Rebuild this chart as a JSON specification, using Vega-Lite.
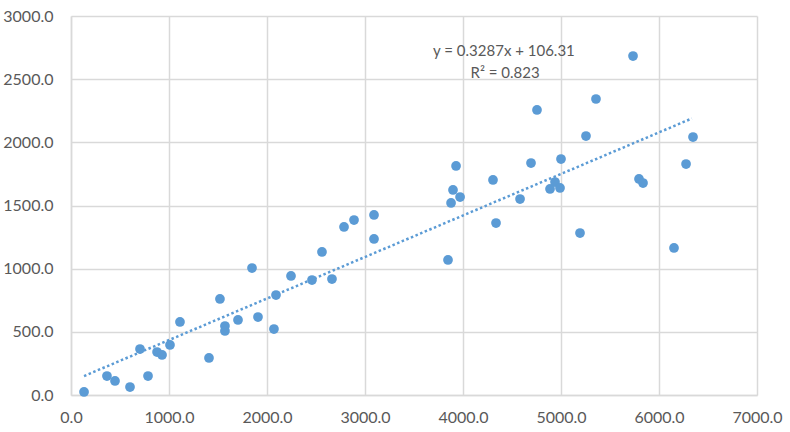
{
  "$schema": "https://vega.github.io/schema/vega-lite/v6.json",
  "width": 686,
  "height": 379,
  "autosize": {"type": "none"},
  "padding": {"left": 71, "top": 16, "right": 33, "bottom": 37},
  "background": "white",
  "config": {
    "view": {"stroke": null},
    "font": "Lato",
    "axis": {
      "grid": true,
      "gridColor": "#D9D9D9",
      "gridWidth": 1.5,
      "domainColor": "#D9D9D9",
      "domainWidth": 1.5,
      "ticks": false,
      "labelFlush": false,
      "labelColor": "#595959",
      "labelFont": "Lato",
      "labelFontSize": 16,
      "title": null
    }
  },
  "datasets": {
    "points": [
      {"x": 133, "y": 24}, {"x": 367, "y": 150}, {"x": 449, "y": 111}, {"x": 602, "y": 63},
      {"x": 786, "y": 150}, {"x": 704, "y": 364}, {"x": 878, "y": 340}, {"x": 929, "y": 317},
      {"x": 1010, "y": 396}, {"x": 1112, "y": 578}, {"x": 1408, "y": 293}, {"x": 1520, "y": 760},
      {"x": 1571, "y": 546}, {"x": 1571, "y": 507}, {"x": 1704, "y": 594}, {"x": 1847, "y": 1005},
      {"x": 1908, "y": 617}, {"x": 2071, "y": 522}, {"x": 2092, "y": 791}, {"x": 2245, "y": 942},
      {"x": 2459, "y": 910}, {"x": 2561, "y": 1132}, {"x": 2663, "y": 918}, {"x": 2786, "y": 1330},
      {"x": 2888, "y": 1385}, {"x": 3092, "y": 1425}, {"x": 3092, "y": 1235}, {"x": 3847, "y": 1069},
      {"x": 4337, "y": 1361}, {"x": 5194, "y": 1282}, {"x": 6153, "y": 1164}, {"x": 5735, "y": 2683},
      {"x": 4755, "y": 2256}, {"x": 5357, "y": 2343}, {"x": 5255, "y": 2050}, {"x": 6347, "y": 2042},
      {"x": 3929, "y": 1813}, {"x": 4694, "y": 1836}, {"x": 5000, "y": 1868}, {"x": 6276, "y": 1828},
      {"x": 3898, "y": 1623}, {"x": 3970, "y": 1567}, {"x": 3878, "y": 1520}, {"x": 4306, "y": 1702},
      {"x": 4582, "y": 1551}, {"x": 4939, "y": 1686}, {"x": 4888, "y": 1631}, {"x": 4990, "y": 1639},
      {"x": 5796, "y": 1710}, {"x": 5837, "y": 1678}
    ],
    "trend": [
      {"x": 133, "y": 150.0},
      {"x": 6335, "y": 2188.7}
    ],
    "labels": [
      {"x": 4418, "y": 2723, "text": "y = 0.3287x + 106.31"},
      {"x": 4430, "y": 2549, "text": "R² = 0.823"}
    ]
  },
  "layer": [
    {
      "data": {"name": "trend"},
      "mark": {"type": "line", "color": "#5B9BD5", "strokeWidth": 2.5, "strokeDash": [2.5, 2.5]},
      "encoding": {
        "x": {"field": "x", "type": "quantitative", "scale": {"domain": [0, 7000], "nice": false},
              "axis": {"values": [0, 1000, 2000, 3000, 4000, 5000, 6000, 7000], "format": ".1f", "labelPadding": 14}},
        "y": {"field": "y", "type": "quantitative", "scale": {"domain": [0, 3000], "nice": false},
              "axis": {"values": [0, 500, 1000, 1500, 2000, 2500, 3000], "format": ".1f", "labelPadding": 18}}
      }
    },
    {
      "data": {"name": "points"},
      "mark": {"type": "circle", "color": "#5B9BD5", "size": 95, "opacity": 1},
      "encoding": {
        "x": {"field": "x", "type": "quantitative"},
        "y": {"field": "y", "type": "quantitative"}
      }
    },
    {
      "data": {"name": "labels"},
      "mark": {"type": "text", "color": "#595959", "fontSize": 15, "font": "Lato", "align": "center", "baseline": "middle"},
      "encoding": {
        "x": {"field": "x", "type": "quantitative"},
        "y": {"field": "y", "type": "quantitative"},
        "text": {"field": "text"}
      }
    }
  ]
}
